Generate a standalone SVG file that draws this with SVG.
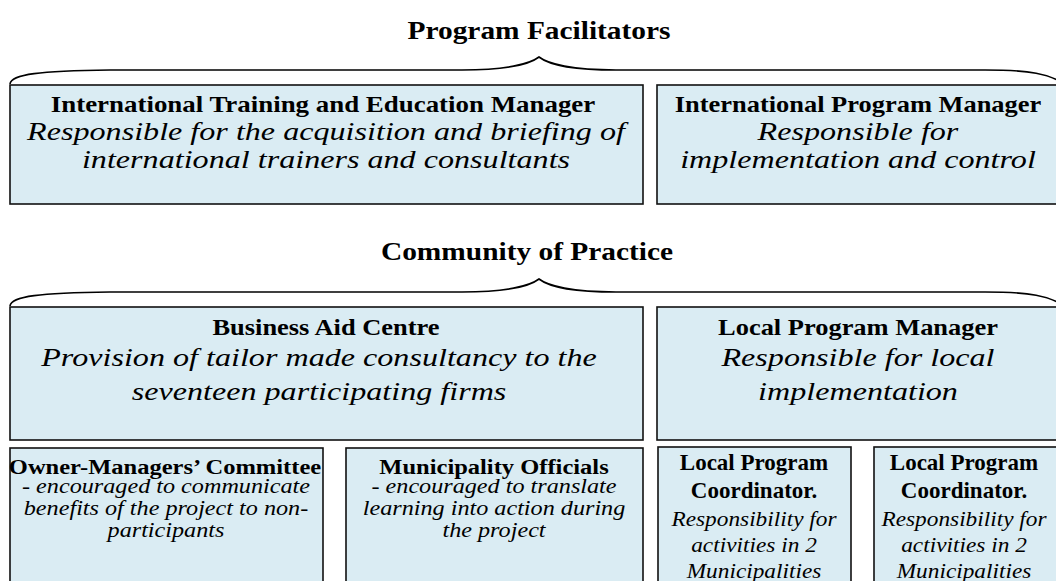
<svg xmlns="http://www.w3.org/2000/svg" width="1056" height="581" viewBox="0 0 1056 581">
  <style>
    .box { fill: #daecf3; stroke: #111; stroke-width: 1.6; }
    .brace { fill: none; stroke: #000; stroke-width: 1.6; }
    text { font-family: "Liberation Serif", "Times New Roman", serif; fill: #000; text-anchor: middle; }
    .hd { font-size: 24.5px; font-weight: bold; }
    .t { font-size: 23px; font-weight: bold; }
    .i { font-size: 25.5px; font-style: italic; }
    .ts { font-size: 21.5px; font-weight: bold; }
    .is { font-size: 20.5px; font-style: italic; }
    .tc { font-size: 23px; font-weight: bold; }
    .ic { font-size: 22px; font-style: italic; }
  </style>
  <defs>
    <path id="brace" d="M 10 84 C 11 74, 40 71, 110 70 L 462 70 C 506 70, 530 64, 539 57 C 548 64, 572 70, 616 70 L 985 70 C 1030 70, 1050 74, 1064 84"/>
  </defs>

  <!-- section headings (type is set wide, hence the x-scale) -->
  <g id="heading-facilitators">
    <text class="hd" transform="matrix(1.2 0 0 1 539 0)" y="39">Program Facilitators</text>
  </g>
  <g id="heading-community">
    <text class="hd" transform="matrix(1.2 0 0 1 527 0)" y="260">Community of Practice</text>
  </g>

  <!-- braces grouping each row of roles -->
  <g id="connectors">
    <use href="#brace" class="brace"/>
    <use href="#brace" class="brace" transform="translate(0 222)"/>
  </g>

  <g id="intl-training-manager">
    <rect class="box" x="10" y="85" width="633" height="119"/>
    <text class="t" transform="matrix(1.17 0 0 1 323 0)" y="112">International Training and Education Manager</text>
    <text class="i" transform="matrix(1.26 0 0 1 326 0)" y="140">Responsible for the acquisition and briefing of</text>
    <text class="i" transform="matrix(1.26 0 0 1 326 0)" y="168">international trainers and consultants</text>
  </g>

  <g id="intl-program-manager">
    <rect class="box" x="657" y="85" width="410" height="119"/>
    <text class="t" transform="matrix(1.15 0 0 1 858 0)" y="112">International Program Manager</text>
    <text class="i" transform="matrix(1.26 0 0 1 858 0)" y="140">Responsible for</text>
    <text class="i" transform="matrix(1.26 0 0 1 858 0)" y="168">implementation and control</text>
  </g>

  <g id="business-aid-centre">
    <rect class="box" x="10" y="307" width="633" height="133"/>
    <text class="t" transform="matrix(1.15 0 0 1 326 0)" y="335">Business Aid Centre</text>
    <text class="i" transform="matrix(1.26 0 0 1 319 0)" y="366">Provision of tailor made consultancy to the</text>
    <text class="i" transform="matrix(1.26 0 0 1 319 0)" y="400">seventeen participating firms</text>
  </g>

  <g id="local-program-manager">
    <rect class="box" x="657" y="307" width="410" height="133"/>
    <text class="t" transform="matrix(1.15 0 0 1 858 0)" y="335">Local Program Manager</text>
    <text class="i" transform="matrix(1.26 0 0 1 858 0)" y="366">Responsible for local</text>
    <text class="i" transform="matrix(1.26 0 0 1 858 0)" y="400">implementation</text>
  </g>

  <g id="owner-managers-committee">
    <rect class="box" x="10" y="448" width="313" height="150"/>
    <text class="ts" transform="matrix(1.14 0 0 1 165 0)" y="474">Owner-Managers’ Committee</text>
    <text class="is" transform="matrix(1.18 0 0 1 166 0)" y="493">- encouraged to communicate</text>
    <text class="is" transform="matrix(1.18 0 0 1 166 0)" y="515">benefits of the project to non-</text>
    <text class="is" transform="matrix(1.18 0 0 1 166 0)" y="537">participants</text>
  </g>

  <g id="municipality-officials">
    <rect class="box" x="346" y="448" width="297" height="150"/>
    <text class="ts" transform="matrix(1.14 0 0 1 494 0)" y="474">Municipality Officials</text>
    <text class="is" transform="matrix(1.18 0 0 1 494 0)" y="493">- encouraged to translate</text>
    <text class="is" transform="matrix(1.18 0 0 1 494 0)" y="515">learning into action during</text>
    <text class="is" transform="matrix(1.18 0 0 1 494 0)" y="537">the project</text>
  </g>

  <g id="local-coordinator-1">
    <rect class="box" x="658" y="447" width="193" height="150"/>
    <text class="tc" x="754" y="470">Local Program</text>
    <text class="tc" x="754" y="498">Coordinator.</text>
    <text class="ic" transform="matrix(1.06 0 0 1 754 0)" y="526">Responsibility for</text>
    <text class="ic" transform="matrix(1.06 0 0 1 754 0)" y="552">activities in 2</text>
    <text class="ic" transform="matrix(1.06 0 0 1 754 0)" y="578">Municipalities</text>
  </g>

  <g id="local-coordinator-2">
    <rect class="box" x="874" y="447" width="193" height="150"/>
    <text class="tc" x="964" y="470">Local Program</text>
    <text class="tc" x="964" y="498">Coordinator.</text>
    <text class="ic" transform="matrix(1.06 0 0 1 964 0)" y="526">Responsibility for</text>
    <text class="ic" transform="matrix(1.06 0 0 1 964 0)" y="552">activities in 2</text>
    <text class="ic" transform="matrix(1.06 0 0 1 964 0)" y="578">Municipalities</text>
  </g>
</svg>
